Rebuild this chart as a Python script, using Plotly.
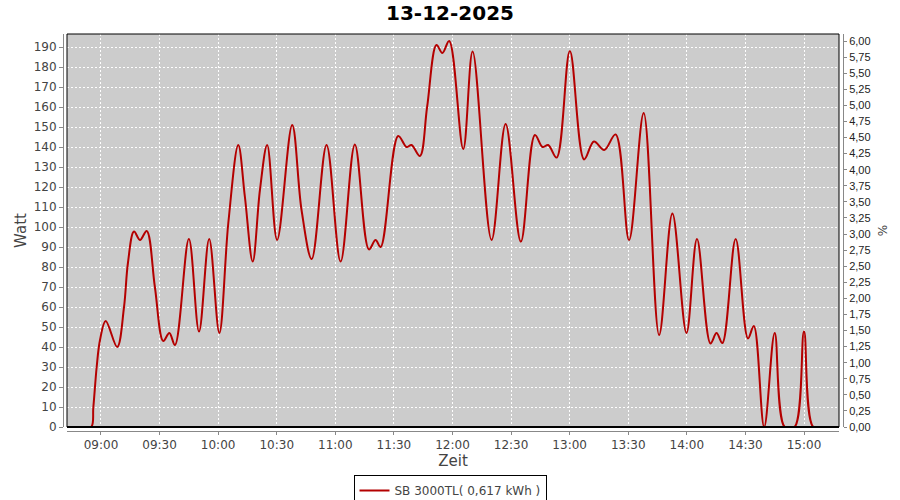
import plotly.graph_objects as go

DAY = "2025-12-13"
TITLE = "13-12-2025"
SERIES_NAME = "SB 3000TL( 0,617 kWh )"

times = [
    "08:50:00", "08:55:00", "08:56:06", "08:57:48", "08:59:30", "09:02:24", "09:08:18",
    "09:11:48", "09:13:48", "09:16:54", "09:20:00", "09:23:24", "09:27:36", "09:31:54",
    "09:35:00", "09:37:54", "09:45:00", "09:50:12", "09:55:24", "10:00:36", "10:05:12",
    "10:10:18", "10:13:42", "10:17:42", "10:21:24", "10:25:06", "10:30:12", "10:37:54",
    "10:42:42", "10:47:54", "10:55:30", "11:02:42", "11:10:00", "11:17:12", "11:20:36",
    "11:23:12", "11:32:12", "11:36:30", "11:39:00", "11:43:18", "11:47:00", "11:51:48",
    "11:54:48", "11:58:18", "12:05:30", "12:10:18", "12:20:00", "12:27:12", "12:35:00",
    "12:42:12", "12:46:06", "12:49:00", "12:53:18", "13:00:06", "13:07:24", "13:12:24",
    "13:17:42", "13:23:30", "13:30:24", "13:37:54", "13:45:48", "13:52:36", "13:59:48",
    "14:05:12", "14:12:06", "14:15:12", "14:18:12", "14:25:00", "14:31:18", "14:34:18",
    "14:39:36", "14:45:00", "14:50:06", "14:55:12", "15:00:00", "15:04:42", "15:10:06",
]
watts = [
    0, 0, 10, 30, 43.5, 53, 40,
    60, 82, 97.7, 93.5, 98, 70, 43,
    47, 41, 94, 47.7, 94, 47, 102,
    141, 115, 82.7, 118.5, 141, 93.5, 151,
    108.5, 84, 141, 82.7, 141.3, 88.8, 93.5,
    90, 145.5, 140, 141, 135.5, 160, 191,
    187, 193, 139, 187.7, 93.5, 151.5, 92.7,
    146, 140, 141, 134.7, 188, 133.8, 142.7,
    138.5, 146.3, 93.5, 157, 46, 106.8, 47,
    94, 41.8, 47, 42, 94, 44.3, 50.5,
    0, 47, 0, 0, 47.7, 0, 0,
]

x_range = ["08:42:36", "15:17:55"]
x_tick_step_ms = 30 * 60 * 1000
watt_range = [0, 196.5]
watt_step = 10
pct_range = [0, 6.11]
pct_step = 0.25

W, H = 900, 500
ML, MR, MT, MB = 63, 57, 34, 69
OFF = 4
pw, ph = W - ML - MR, H - MT - MB
dx0, dx1 = OFF / pw, 1 - OFF / pw
dy0 = OFF / ph

LINE_RED = "#b40000"
TXT = "#444444"
AX = "#888888"

fig = go.Figure()
fig.add_trace(go.Scatter(
    x=[f"{DAY} {t}" for t in times], y=watts, mode="lines",
    line=dict(color=LINE_RED, width=2, shape="spline", smoothing=1.0),
    name=SERIES_NAME, showlegend=True,
))
# dummy trace to activate the right axis
fig.add_trace(go.Scatter(x=[f"{DAY} {times[0]}"], y=[None], yaxis="y2",
                         showlegend=False, hoverinfo="skip"))

fig.update_layout(
    width=W, height=H,
    margin=dict(l=ML, r=MR, t=MT, b=MB, pad=0, autoexpand=False),
    paper_bgcolor="white", plot_bgcolor="#cccccc",
    separators=",.",
    font=dict(family="DejaVu Sans", size=12, color=TXT),
    title=dict(text=f"<b>{TITLE}</b>", x=0.5, xanchor="center", xref="container",
               y=1 - 13 / H, yanchor="middle", yref="container",
               font=dict(family="DejaVu Sans", size=20, color="black")),
    xaxis=dict(
        domain=[dx0, dx1], anchor="free", position=0, automargin=False,
        type="date", range=[f"{DAY} {x_range[0]}", f"{DAY} {x_range[1]}"],
        tick0=f"{DAY} 09:00:00", dtick=x_tick_step_ms, tickformat="%H:%M",
        showgrid=True, gridcolor="white", gridwidth=1, griddash="2px,2px",
        showline=True, linecolor=AX, linewidth=1,
        ticks="outside", ticklen=3, tickcolor=AX,
        tickfont=dict(family="DejaVu Sans", size=12, color=TXT),
        title=dict(text="Zeit", font=dict(family="DejaVu Sans", size=15, color=TXT), standoff=4),
        zeroline=False,
    ),
    yaxis=dict(
        domain=[dy0, 1], anchor="free", position=0, automargin=False,
        range=watt_range, dtick=watt_step, tick0=0,
        showgrid=True, gridcolor="white", gridwidth=1, griddash="2px,2px",
        showline=True, linecolor=AX, linewidth=1,
        ticks="outside", ticklen=4, tickcolor=AX,
        tickfont=dict(family="DejaVu Sans", size=12, color=TXT),
        title=dict(text="Watt", font=dict(family="DejaVu Sans", size=15, color=TXT), standoff=2),
        zeroline=False,
    ),
    yaxis2=dict(
        overlaying="y", side="right", anchor="free", position=1, automargin=False,
        range=pct_range, dtick=pct_step, tick0=0, tickformat=".2f",
        showgrid=False, showline=True, linecolor=AX, linewidth=1,
        ticks="outside", ticklen=3, tickcolor=AX,
        tickfont=dict(family="Liberation Sans", size=11, color="#222222"),
        title=dict(text="%", font=dict(family="DejaVu Sans", size=12, color=TXT), standoff=8),
        zeroline=False,
    ),
    legend=dict(
        orientation="h", x=0.5, xanchor="center", xref="container",
        y=1 - 475 / H, yanchor="top", yref="container",
        bordercolor="black", borderwidth=1, bgcolor="white",
        font=dict(family="DejaVu Sans", size=12, color=TXT),
        itemwidth=30,
    ),
    shapes=[
        dict(type="rect", xref="paper", yref="paper", x0=dx0, x1=dx1, y0=dy0, y1=1,
             line=dict(color="black", width=1), layer="above"),
        dict(type="line", xref="paper", yref="paper", x0=dx0, x1=dx1, y0=dy0, y1=dy0,
             line=dict(color="black", width=2), layer="above"),
    ],
)

fig.write_html(
    "out.html",
    config={"displayModeBar": False},
    post_script="document.body.style.margin='0';document.body.style.padding='0';document.body.style.overflow='hidden';",
)
